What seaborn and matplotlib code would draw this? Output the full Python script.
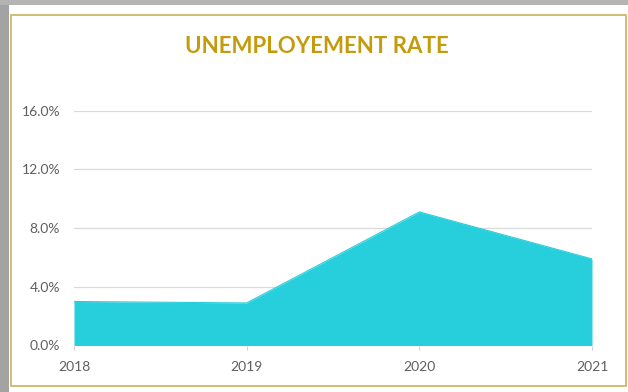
import matplotlib
matplotlib.use("Agg")
import matplotlib.pyplot as plt
from matplotlib.patches import Rectangle
import seaborn as sns
import pandas as pd

# Yearly unemployment rate (%)
years = [2018, 2019, 2020, 2021]
rates = [3.0, 2.9, 9.1, 5.9]
y_ticks = [0, 4, 8, 12, 16]
y_tick_labels = ["0.0%", "4.0%", "8.0%", "12.0%", "16.0%"]
title_text = "UNEMPLOYEMENT RATE"

df = pd.DataFrame({"year": years, "rate": rates})

sns.set_theme(style="white")
plt.rcParams["font.family"] = ["Lato", "DejaVu Sans"]

W, H, DPI = 628, 392, 100
fig = plt.figure(figsize=(W / DPI, H / DPI), dpi=DPI)
fig.patch.set_facecolor("white")

# window frame around the card
fig.patches.append(Rectangle((0, 0), 9 / W, 1, transform=fig.transFigure,
                             facecolor="#a3a3a3", edgecolor="none", zorder=0))
fig.patches.append(Rectangle((0, 1 - 5 / H), 1, 5 / H, transform=fig.transFigure,
                             facecolor="#b4b4b4", edgecolor="none", zorder=0))
# gold card border
fig.patches.append(Rectangle((10.5 / W, 1 - 386 / H), 615.5 / W, 371 / H,
                             transform=fig.transFigure, facecolor="none",
                             edgecolor="#cdb969", linewidth=1.3, zorder=1))

ax = fig.add_axes([74 / W, 46.5 / H, 518 / W, 234.8 / H])
ax.set_facecolor("none")

sns.lineplot(data=df, x="year", y="rate", ax=ax, color="#27cedc", linewidth=0.8)
ax.fill_between(df["year"], df["rate"], 0, color="#27cedc", linewidth=0, zorder=2)

ax.set_xlim(years[0], years[-1])
ax.set_ylim(0, 16)
ax.set_yticks(y_ticks)
ax.set_yticklabels(y_tick_labels)
ax.set_xticks(years)
ax.set_xticklabels([str(y) for y in years])
ax.set_xlabel("")
ax.set_ylabel("")

ax.grid(axis="y", color="#dadada", linewidth=0.9)
ax.set_axisbelow(True)
for s in ax.spines.values():
    s.set_visible(False)

ax.tick_params(axis="y", length=0, pad=10, labelsize=10, labelcolor="#5f5f5f")
ax.tick_params(axis="x", length=3, width=0.8, color="#d0d0d0", pad=8,
               labelsize=10, labelcolor="#5f5f5f", bottom=True)

fig.text(317 / W, 1 - 46.5 / H, title_text, ha="center", va="center",
         fontsize=16, fontweight="bold", color="#c49b0c")

fig.savefig("out.png", dpi=DPI)
